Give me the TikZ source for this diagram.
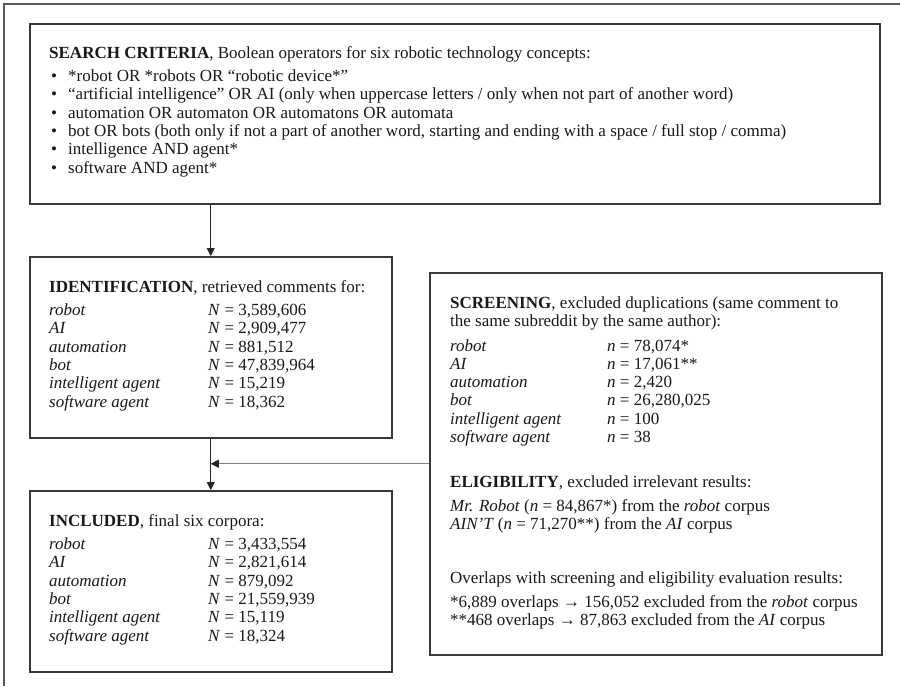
\documentclass[tikz,border=0pt]{standalone}
\usepackage{fontspec}
\setmainfont{Liberation Serif}
\usetikzlibrary{arrows.meta,calc}
\newcommand\tabrow[6]{%
  \node[txt] (#1l) at (#2,#4) {\textit{#5}};
  \node[txt] (#1v) at (#3,#4) {#6};}
\begin{document}
\begin{tikzpicture}[x=1pt,y=-1pt,
  box/.style={draw=black!78, line width=1.5pt, anchor=north west, inner sep=0pt},
  frame/.style={draw=black!65, line width=1.3pt},
  txt/.style={anchor=base west, inner sep=0pt, text=black!90, font=\fontsize{17}{19}\selectfont},
  flow/.style={draw=black!85, line width=0.9pt, -{Triangle[length=8pt,width=8pt]}},
  side/.style={draw=black!50, line width=0.9pt, -{Triangle[length=8pt,width=8pt,color=black!85]}}]
\useasboundingbox (0,0) rectangle (900,686);
\fill[white] (0,0) rectangle (900,686);
% outer frame (left and top only)
\draw[frame] (4,686) -- (4,4) -- (900,4);
% boxes
\node[box, minimum width=850, minimum height=180] (search) at (29,23) {};
\node[box, minimum width=362, minimum height=181] (ident) at (29,256) {};
\node[box, minimum width=362, minimum height=181] (incl) at (29,490) {};
\node[box, minimum width=452, minimum height=382] (screen) at (429,272) {};
% connectors
\draw[flow] (ident.north |- search.south) -- (ident.north);
\draw[flow] (ident.south) -- (incl.north);
\draw[side] (screen.west) -- (screen.west -| ident.south);
% search criteria
\node[txt] (s0) at (49,58) {\textbf{SEARCH CRITERIA}, Boolean operators for six robotic technology concepts:};
\foreach \k/\t in {1/{*robot OR *robots OR “robotic device*”},
  2/{“artificial intelligence” OR AI (only when uppercase letters / only when not part of another word)},
  3/{automation OR automaton OR automatons OR automata},
  4/{bot OR bots (both only if not a part of another word, starting and ending with a space / full stop / comma)},
  5/{intelligence AND agent*},
  6/{software AND agent*}}{
  \node[txt] (sb\k) at (51,58+23.5+\k*18.3-18.3) {•};
  \node[txt] (s\k) at (68,58+23.5+\k*18.3-18.3) {\t};
}
% identification
\node[txt] (i0) at (49,292) {\textbf{IDENTIFICATION}, retrieved comments for:};
\tabrow{i1}{49}{208}{315.5}{robot}{\textit{N} = 3,589,606}
\tabrow{i2}{49}{208}{333.8}{AI}{\textit{N} = 2,909,477}
\tabrow{i3}{49}{208}{352.1}{automation}{\textit{N} = 881,512}
\tabrow{i4}{49}{208}{370.4}{bot}{\textit{N} = 47,839,964}
\tabrow{i5}{49}{208}{388.7}{intelligent agent}{\textit{N} = 15,219}
\tabrow{i6}{49}{208}{407.0}{software agent}{\textit{N} = 18,362}
% included
\node[txt] (c0) at (49,526) {\textbf{INCLUDED}, final six corpora:};
\tabrow{c1}{49}{208}{549.5}{robot}{\textit{N} = 3,433,554}
\tabrow{c2}{49}{208}{567.8}{AI}{\textit{N} = 2,821,614}
\tabrow{c3}{49}{208}{586.1}{automation}{\textit{N} = 879,092}
\tabrow{c4}{49}{208}{604.4}{bot}{\textit{N} = 21,559,939}
\tabrow{c5}{49}{208}{622.7}{intelligent agent}{\textit{N} = 15,119}
\tabrow{c6}{49}{208}{641.0}{software agent}{\textit{N} = 18,324}
% screening
\node[txt] (r0) at (450,308) {\textbf{SCREENING}, excluded duplications (same comment to};
\node[txt] (r0b) at (450,326.5) {the same subreddit by the same author):};
\tabrow{r1}{450}{607}{351.0}{robot}{\textit{n} = 78,074*}
\tabrow{r2}{450}{607}{369.3}{AI}{\textit{n} = 17,061**}
\tabrow{r3}{450}{607}{387.6}{automation}{\textit{n} = 2,420}
\tabrow{r4}{450}{607}{405.9}{bot}{\textit{n} = 26,280,025}
\tabrow{r5}{450}{607}{424.2}{intelligent agent}{\textit{n} = 100}
\tabrow{r6}{450}{607}{442.5}{software agent}{\textit{n} = 38}
% eligibility
\node[txt] (e0) at (450,487) {\textbf{ELIGIBILITY}, excluded irrelevant results:};
\node[txt] (e1) at (450,511) {\textit{Mr. Robot} (\textit{n} = 84,867*) from the \textit{robot} corpus};
\node[txt] (e2) at (450,529.3) {\textit{AIN’T} (\textit{n} = 71,270**) from the \textit{AI} corpus};
% overlaps
\node[txt] (o0) at (450,583) {Overlaps with screening and eligibility evaluation results:};
\node[txt] (o1) at (450,607) {*6,889 overlaps → 156,052 excluded from the \textit{robot} corpus};
\node[txt] (o2) at (450,625.3) {**468 overlaps → 87,863 excluded from the \textit{AI} corpus};
\end{tikzpicture}
\end{document}
